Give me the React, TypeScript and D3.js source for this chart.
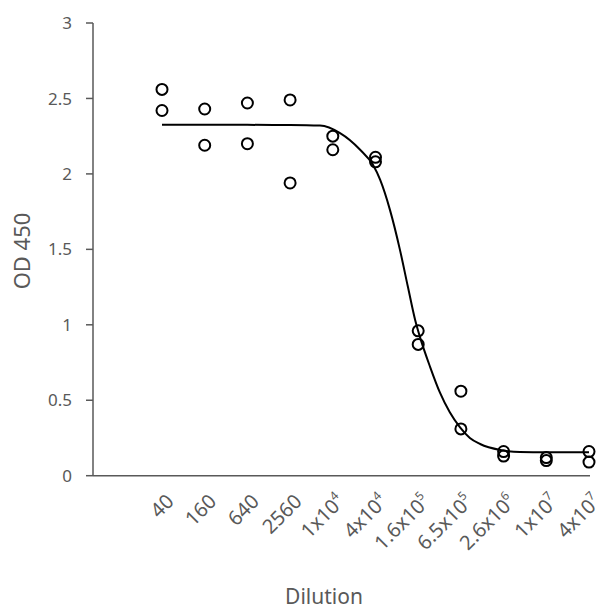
import React from "react";
import * as d3 from "d3";

const categoryLabels = ["40", "160", "640", "2560", "1x10", "4x10", "1.6x10", "6.5x10", "2.6x10", "1x10", "4x10"];
const categorySup = ["", "", "", "", "4", "4", "5", "5", "6", "7", "7"];
const replicate1 = [2.56, 2.43, 2.47, 2.49, 2.25, 2.11, 0.96, 0.56, 0.16, 0.12, 0.16];
const replicate2 = [2.42, 2.19, 2.2, 1.94, 2.16, 2.08, 0.87, 0.31, 0.13, 0.1, 0.09];
const fitX = [0, 1, 2, 3, 3.7, 4.17, 4.64, 4.94, 5.11, 5.34, 5.57, 5.76, 5.93, 6.04, 6.28, 6.51, 6.74, 6.98, 7.21, 7.45, 7.92, 8.38, 9, 10];
const fitY = [2.325, 2.325, 2.325, 2.324, 2.32, 2.27, 2.16, 2.06, 1.96, 1.76, 1.5, 1.25, 1.03, 0.92, 0.72, 0.55, 0.42, 0.32, 0.25, 0.21, 0.17, 0.157, 0.155, 0.155];
const yTicks = [0, 0.5, 1, 1.5, 2, 2.5, 3];

const W = 604;
const H = 612;
const axisLeft = 93;
const axisRight = 590;
const axisTop = 23;
const axisBottom = 475.7;
const textColor = "#595959";
const font = "'Noto Sans', 'DejaVu Sans', sans-serif";

export default function App() {
  const x = d3.scaleLinear().domain([0, 10]).range([162, 589]);
  const y = d3.scaleLinear().domain([0, 3]).range([axisBottom, axisTop]);
  const line = d3
    .line<number>()
    .x((_, i) => x(fitX[i]))
    .y((d) => y(d))
    .curve(d3.curveMonotoneX);
  const pts: { i: number; v: number }[] = [];
  replicate1.forEach((v, i) => pts.push({ i, v }));
  replicate2.forEach((v, i) => pts.push({ i, v }));

  return (
    <svg width={W} height={H} style={{ position: "absolute", left: 0, top: 0, background: "#fff" }} fontFamily={font}>
      <rect width={W} height={H} fill="#fff" />
      {/* y axis */}
      <line x1={axisLeft} x2={axisLeft} y1={axisTop} y2={axisBottom} stroke={textColor} strokeWidth={1.5} />
      {yTicks.map((t) => (
        <g key={t}>
          <line x1={axisLeft - 7} x2={axisLeft} y1={y(t)} y2={y(t)} stroke={textColor} strokeWidth={1.5} />
          <text x={axisLeft - 21} y={y(t)} dy="0.36em" textAnchor="end" fontSize={17} fill={textColor}>
            {t}
          </text>
        </g>
      ))}
      {/* x axis */}
      <line x1={axisLeft} x2={axisRight} y1={axisBottom} y2={axisBottom} stroke={textColor} strokeWidth={1.5} />
      {categoryLabels.map((lab, i) => (
        <text
          key={i}
          transform={`translate(${x(i) + 13},${axisBottom + 27}) rotate(-45)`}
          textAnchor="end"
          fontSize={20}
          fill={textColor}
        >
          {lab}
          {categorySup[i] ? (
            <tspan dy={-9} fontSize={12}>
              {categorySup[i]}
            </tspan>
          ) : null}
        </text>
      ))}
      {/* fit curve */}
      <path d={line(fitY) || ""} fill="none" stroke="#000" strokeWidth={2} />
      {pts.map((p, k) => (
        <circle key={k} cx={x(p.i)} cy={y(p.v)} r={5.5} fill="none" stroke="#000" strokeWidth={2} />
      ))}
      <text x={324} y={604} textAnchor="middle" fontSize={21} fill={textColor}>
        Dilution
      </text>
      <text transform={`translate(30,251) rotate(-90)`} textAnchor="middle" fontSize={22} fill={textColor}>
        OD 450
      </text>
    </svg>
  );
}
